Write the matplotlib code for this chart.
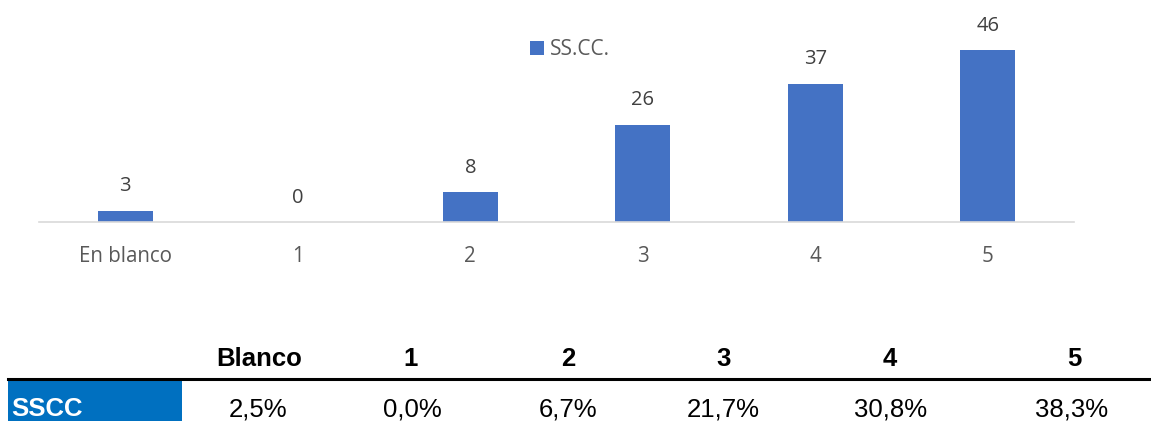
import matplotlib.pyplot as plt
from matplotlib.patches import Rectangle

# datos
categorias = ['En blanco', '1', '2', '3', '4', '5']
valores = [3, 0, 8, 26, 37, 46]
cabecera = ['Blanco', '1', '2', '3', '4', '5']
porcentajes = ['2,5%', '0,0%', '6,7%', '21,7%', '30,8%', '38,3%']
fila = 'SSCC'
serie = 'SS.CC.'

W, H = 1151, 421
fig = plt.figure(figsize=(W / 100, H / 100), dpi=100)

def fx(px):
    return px / W

def fy(py):
    return 1 - py / H

# grafico de barras
ax = fig.add_axes([fx(39), fy(222), fx(1074 - 39), (222 - 10) / H])
x = range(len(categorias))
ax.bar(x, valores, width=0.32, color='#4472C4', label=serie)
ax.set_xlim(-0.5, len(categorias) - 0.5)
ax.set_ylim(0, (222 - 10) / 3.74)
for i, v in enumerate(valores):
    ax.annotate(str(v), (i, v), xytext=(0, 14), textcoords='offset points',
                ha='center', va='baseline', fontsize=14.5,
                color='#404040', family='Open Sans')
for s in ['top', 'right', 'left']:
    ax.spines[s].set_visible(False)
ax.spines['bottom'].set_color('#D9D9D9')
ax.spines['bottom'].set_linewidth(1.2)
ax.set_yticks([])
ax.set_xticks(list(x))
ax.set_xticklabels(categorias, fontsize=14.8, color='#595959', family='Open Sans')
ax.tick_params(axis='x', length=0, pad=17)
leg = ax.legend(loc='upper left', bbox_to_anchor=((522 - 39) / 1035, 1.0 - (31 - 10) / 212),
                frameon=False, fontsize=15, handlelength=0.65, handleheight=0.65,
                handletextpad=0.3, borderaxespad=0)
for t in leg.get_texts():
    t.set_color('#595959')
    t.set_family('Open Sans')

# tabla inferior
cab_x = [259, 411, 568, 724, 890, 1074]
val_x = [258, 412, 568, 723, 891, 1072]
for c, px in zip(cabecera, cab_x):
    fig.text(fx(px), fy(366), c, ha='center', va='baseline', fontsize=18.5,
             fontweight='bold', family='Liberation Sans', color='black')
fig.add_artist(plt.Line2D([fx(8), fx(1151)], [fy(379), fy(379)], color='black',
                          linewidth=2.2, transform=fig.transFigure))
fig.add_artist(Rectangle((fx(8), 0), fx(182 - 8), fy(381), color='#0070C0',
                         transform=fig.transFigure, linewidth=0))
fig.text(fx(11), fy(416), fila, ha='left', va='baseline', fontsize=18.5,
         fontweight='bold', family='Liberation Sans', color='white')
for p, px in zip(porcentajes, val_x):
    fig.text(fx(px), fy(417), p, ha='center', va='baseline', fontsize=18.5,
             family='Liberation Sans', color='black')

plt.savefig('out.png', dpi=100)
